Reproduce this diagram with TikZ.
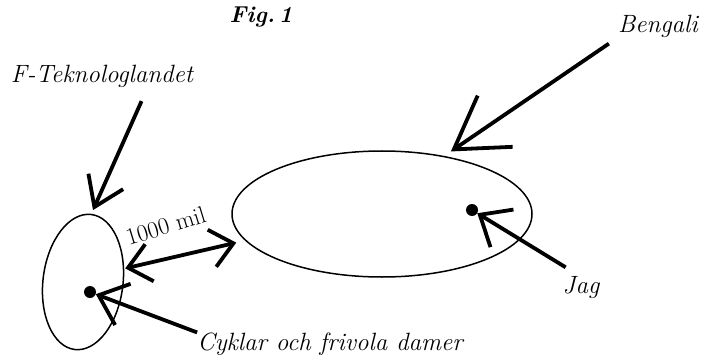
\documentclass[tikz,border=0pt]{standalone}
\usetikzlibrary{calc, positioning, shapes.geometric, arrows.meta}

\begin{document}
\begin{tikzpicture}[x=1pt, y=-1pt,
  land/.style={draw, ellipse, line width=1.5pt, inner sep=0pt},
  prick/.style={circle, fill, inner sep=0pt, minimum size=12pt},
  etikett/.style={font=\fontsize{25}{30}\selectfont\itshape, inner sep=0pt},
  pil/.style={line width=3.8pt, ->},
  >={Straight Barb[length=26pt, width=44pt]},
]
\useasboundingbox (0,0) rectangle (708,358);

\node[font=\fontsize{23}{28}\selectfont\bfseries\itshape, inner sep=0pt] (fig) at (261,17) {Fig.\,1};

% the two lands
\node[land, minimum width=80pt, minimum height=136pt, rotate=-7] (liten) at (83,282) {};
\node[land, minimum width=300pt, minimum height=126pt] (stor) at (382,214) {};
\node[prick] (litenprick) at (90,292) {};
\node[prick] (jagprick) at (472,210) {};

% labels
\node[etikett] (fteknolog) at (102,76) {F-Teknologlandet};
\node[etikett] (bengali) at (658,26) {Bengali};
\node[etikett] (jag) at (581,288) {Jag};
\node[etikett] (cyklar) at (330,344) {Cyklar och frivola damer};

% arrows
\draw[pil, >={Straight Barb[length=50pt, width=62pt]}, shorten <=11pt, shorten >=8pt]
  (bengali.south west) -- (stor.43);
\draw[pil, >={Straight Barb[length=28pt, width=38pt]}, shorten <=15pt, shorten >=4pt]
  ($(fteknolog.south)!0.5!(fteknolog.south east)$) -- (liten.north);
\draw[pil, <->, >={Straight Barb[length=22pt, width=38pt]}, shorten <=1pt, shorten >=9pt]
  (liten.25) -- node[pos=0.41, sloped, rotate=4, above=22pt, inner sep=0pt,
    font=\fontsize{24}{29}\selectfont] (avstand) {1000 mil} (stor.191);
\draw[pil] (cyklar.north west) -- (litenprick);
\draw[pil, shorten <=18pt] (jag.north) -- (jagprick);
\end{tikzpicture}
\end{document}
